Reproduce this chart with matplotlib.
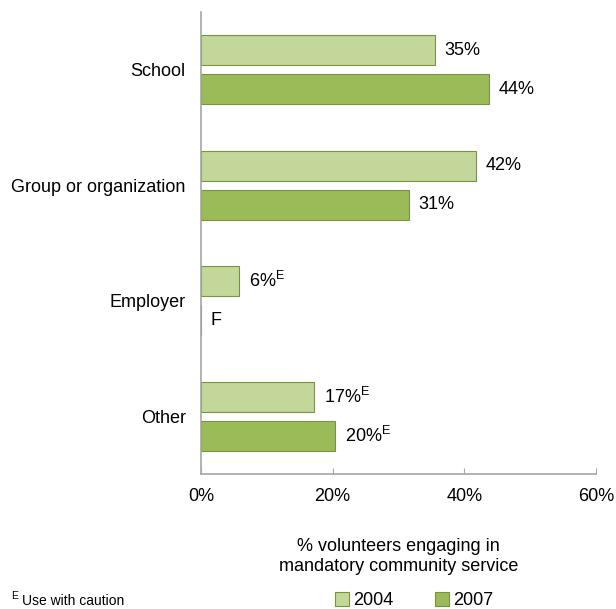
import matplotlib
matplotlib.use("Agg")
import matplotlib.pyplot as plt
import numpy as np

plt.rcParams["font.family"] = ["Liberation Sans", "DejaVu Sans"]
plt.rcParams["mathtext.fontset"] = "custom"
plt.rcParams["mathtext.rm"] = "Liberation Sans"

categories = ["School", "Group or organization", "Employer", "Other"]
vals_2004 = [35.5, 41.8, 5.8, 17.2]
vals_2007 = [43.8, 31.6, np.nan, 20.4]
labels_2004 = ["35%", "42%", "6%$^{\\mathrm{E}}$", "17%$^{\\mathrm{E}}$"]
labels_2007 = ["44%", "31%", "F", "20%$^{\\mathrm{E}}$"]

C04 = "#c4d79b"
C07 = "#9bbb59"
EDGE = "#77933c"
FS = 13

fig = plt.figure(figsize=(6.16, 6.09), dpi=100)
ax = fig.add_axes([0.3263, 0.2217, 0.6412, 0.7586])

y = np.arange(len(categories))
h = 0.26
off = 0.17
ax.barh(y - off, vals_2004, height=h, color=C04, edgecolor=EDGE, lw=0.8, label="2004")
ax.barh(y + off, np.nan_to_num(vals_2007), height=h, color=C07, edgecolor=EDGE, lw=0.8, label="2007")

for yi, v, t in zip(y, vals_2004, labels_2004):
    ax.annotate(t, (v, yi - off), xytext=(7, 0), textcoords="offset points",
                va="center", ha="left", fontsize=FS)
for yi, v, t in zip(y, vals_2007, labels_2007):
    v = 0 if np.isnan(v) else v
    ax.annotate(t, (v, yi + off), xytext=(7, 0), textcoords="offset points",
                va="center", ha="left", fontsize=FS)

ax.set_ylim(len(categories) - 0.5, -0.5)
ax.set_xlim(0, 60)
ax.set_xticks([0, 20, 40, 60])
ax.set_xticklabels(["0%", "20%", "40%", "60%"], fontsize=FS)
ax.set_yticks(y)
ax.set_yticklabels(categories, fontsize=FS)
ax.tick_params(axis="y", length=0, pad=11)
ax.tick_params(axis="x", direction="in", length=4, color="#a6a6a6", pad=10)
for s in ("top", "right"):
    ax.spines[s].set_visible(False)
for s in ("left", "bottom"):
    ax.spines[s].set_color("#a6a6a6")
    ax.spines[s].set_linewidth(1.2)

ax.set_xlabel("% volunteers engaging in\nmandatory community service", fontsize=FS, labelpad=24)

fig.legend(loc="center", bbox_to_anchor=(0.672, 0.014), ncol=2, frameon=False,
           fontsize=FS, handlelength=0.8, handleheight=0.8, handletextpad=0.2,
           columnspacing=2.3)

fig.text(0.018, 0.017, "E", fontsize=7.5, va="baseline")
fig.text(0.036, 0.006, "Use with caution", fontsize=10, va="baseline")

fig.savefig("out.png", dpi=100)
